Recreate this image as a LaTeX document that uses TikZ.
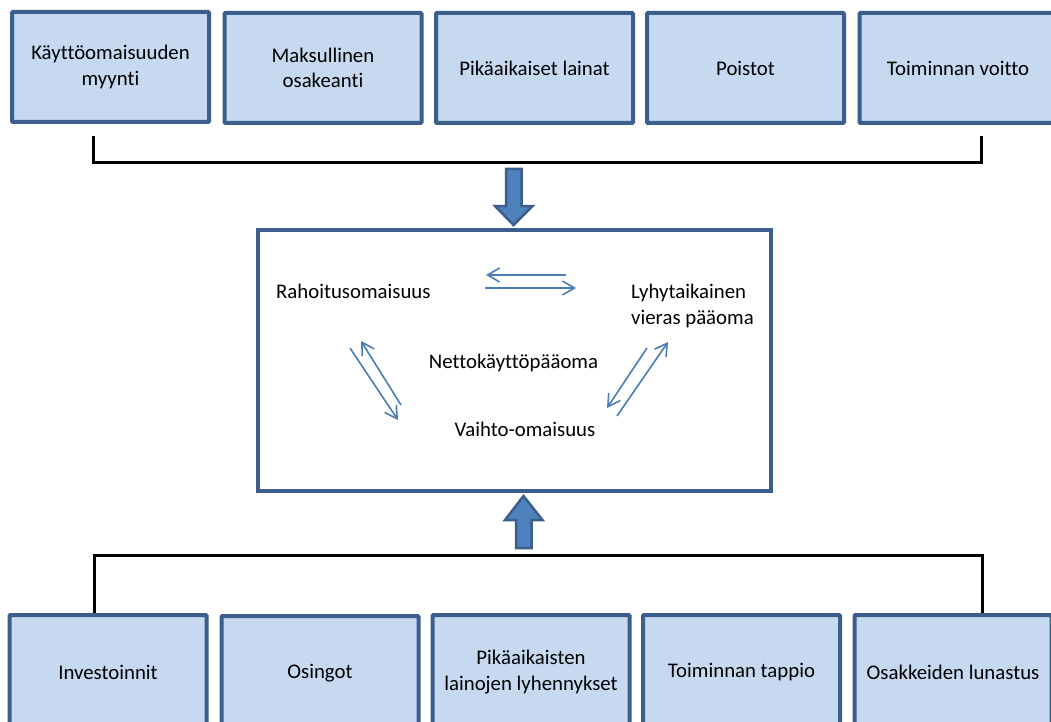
\documentclass[tikz,border=0pt]{standalone}
\usepackage{fontspec}
\setmainfont{Carlito}[Ligatures={NoCommon}]
\usetikzlibrary{arrows.meta}
\definecolor{boxfill}{HTML}{C6D9F1}
\definecolor{boxline}{HTML}{3B5E8C}
\definecolor{arrfill}{HTML}{4F81BD}
\definecolor{thinarr}{HTML}{4A7EBB}
\tikzset{
  x=1pt, y=-1pt,
  txt/.style={font=\fontsize{20.8}{25.5}\selectfont, align=center, inner sep=0pt},
  topbox/.style={draw=boxline, line width=4pt, fill=boxfill, rounded corners=1pt,
    minimum width=197pt, minimum height=110pt, inner sep=0pt, txt},
  botbox/.style={topbox, minimum height=114pt},
  bracket/.style={draw=black, line width=3pt},
  blockarrow/.style={fill=arrfill, draw=boxline, line width=2.5pt, line join=miter},
  flow/.style={draw=thinarr, line width=1.6pt, -{Straight Barb[length=12pt,width=14pt,line width=1.6pt]}},
}
\begin{document}
\begin{tikzpicture}
\useasboundingbox (0,0) rectangle (1051,722);
\clip (0,0) rectangle (1051,722);
% top boxes
\node[topbox] (t1) at (110.5,67) {Käyttöomaisuuden\\myynti};
\node[topbox] (t2) at (323,68) {Maksullinen\\osakeanti};
\node[topbox] (t3) at (534.5,68) {Pikäaikaiset lainat};
\node[topbox] (t4) at (745.5,68) {Poistot};
\node[topbox] (t5) at (958,68) {Toiminnan voitto};
% bottom boxes
\node[botbox] (b1) at (108,672) {Investoinnit};
\node[botbox] (b2) at (320,673) {Osingot};
\node[botbox] (b3) at (531,672) {Pikäaikaisten\\lainojen lyhennykset};
\node[botbox] (b4) at (741.5,672) {Toiminnan tappio};
\node[botbox] (b5) at (953,672) {Osakkeiden lunastus};
% central box
\node[draw=boxline, line width=4.5pt, fill=white, minimum width=513pt, minimum height=261pt, inner sep=0pt] (mid) at (514.5,360.5) {};
% brackets
\coordinate (tl) at (93,136);
\coordinate (tr) at (981,136);
\coordinate (tlb) at (93,163);
\coordinate (trb) at (981,163);
\draw[bracket] (tl) -- (tlb) -- (trb) -- (tr);
\coordinate (bl) at (94,613);
\coordinate (br) at (982,613);
\coordinate (blb) at (94,555);
\coordinate (brb) at (982,555);
\draw[bracket] (bl) -- (blb) -- (brb) -- (br);
% block arrows
\coordinate (da) at (513.5,169);
\draw[blockarrow] (da) ++(-7.5,0) -- ++(0,37) -- ++(-11,0) -- (513.5,225) -- (532.5,206) -- ++(-11,0) -- ++(0,-37) -- cycle;
\coordinate (ua) at (523.5,548);
\draw[blockarrow] (ua) ++(-7.5,0) -- ++(0,-28) -- ++(-11,0) -- (523.5,496) -- (542.5,520) -- ++(-11,0) -- ++(0,28) -- cycle;
% inner texts
\node[txt, anchor=base west] (ra) at (276,298) {Rahoitusomaisuus};
\node[txt, anchor=base west, align=left] (ly) at (631,324) {Lyhytaikainen\\vieras pääoma};
\node[txt, anchor=base] (ne) at (513.5,368) {Nettokäyttöpääoma};
\node[txt, anchor=base] (va) at (525,436) {Vaihto-omaisuus};
% thin arrows
\coordinate (h1s) at (566,275); \coordinate (h1e) at (486,275);
\coordinate (h2s) at (485,288); \coordinate (h2e) at (576,288);
\draw[flow] (h1s) -- (h1e);
\draw[flow] (h2s) -- (h2e);
\coordinate (l1s) at (401,405); \coordinate (l1e) at (361,341);
\coordinate (l2s) at (350,348); \coordinate (l2e) at (398,420);
\draw[flow] (l1s) -- (l1e);
\draw[flow] (l2s) -- (l2e);
\coordinate (r1s) at (647,348); \coordinate (r1e) at (607,408);
\coordinate (r2s) at (617,416); \coordinate (r2e) at (668,342);
\draw[flow] (r1s) -- (r1e);
\draw[flow] (r2s) -- (r2e);
\end{tikzpicture}
\end{document}
